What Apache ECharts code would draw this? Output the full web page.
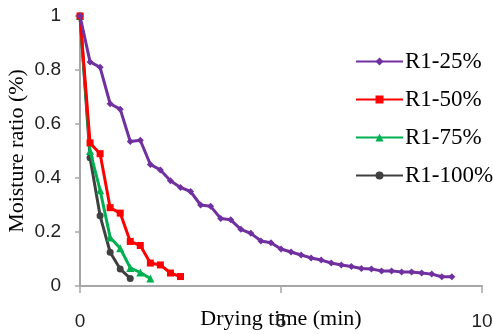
<!DOCTYPE html>
<html><head><meta charset="utf-8">
<script src="https://cdn.jsdelivr.net/npm/echarts@6/dist/echarts.min.js"></script>
<style>html,body{margin:0;padding:0;background:#fff}#c{width:493px;height:334px}</style>
</head><body><div id="c"></div>
<script>
var seriesNames = ['R1-25%', 'R1-50%', 'R1-75%', 'R1-100%'];
var time25 = [0,0.25,0.5,0.75,1,1.25,1.5,1.75,2,2.25,2.5,2.75,3,3.25,3.5,3.75,4,4.25,4.5,4.75,5,5.25,5.5,5.75,6,6.25,6.5,6.75,7,7.25,7.5,7.75,8,8.25,8.5,8.75,9,9.25];
var mr25 = [1,0.83,0.81,0.675,0.655,0.535,0.54,0.45,0.43,0.39,0.365,0.35,0.30,0.295,0.25,0.245,0.21,0.195,0.167,0.16,0.137,0.126,0.115,0.104,0.096,0.085,0.078,0.072,0.065,0.063,0.056,0.056,0.052,0.052,0.048,0.044,0.034,0.034];
var time50 = [0,0.25,0.5,0.75,1,1.25,1.5,1.75,2,2.25,2.5];
var mr50 = [1,0.53,0.49,0.29,0.27,0.165,0.15,0.085,0.078,0.048,0.035];
var time75 = [0,0.25,0.5,0.75,1,1.25,1.5,1.75];
var mr75 = [1,0.50,0.355,0.18,0.14,0.067,0.05,0.028];
var time100 = [0,0.25,0.5,0.75,1,1.25];
var mr100 = [1,0.475,0.26,0.125,0.063,0.028];
var xTicks = [0, 5, 10];
var yTicks = [0, 0.2, 0.4, 0.6, 0.8, 1];

function pairs(t, v){ return t.map(function(x,i){ return [x, v[i]]; }); }
var colors = ['#7030A0', '#FF0000', '#00B050', '#404040'];
var symbols = ['diamond', 'rect', 'triangle', 'circle'];
var sizes = [7, 7, 8, 7];
var datasets = [pairs(time25, mr25), pairs(time50, mr50), pairs(time75, mr75), pairs(time100, mr100)];
var serif = '"Liberation Serif", "Times New Roman", serif';
var sans = '"Liberation Sans", Arial, sans-serif';

var chart = echarts.init(document.getElementById('c'), null, {renderer: 'canvas'});
chart.setOption({
  animation: false,
  backgroundColor: '#fff',
  grid: {left: 80, right: 11, top: 16, bottom: 48, containLabel: false, outerBoundsMode: 'none'},
  legend: {
    orient: 'vertical', left: 355, top: 50, padding: 0,
    itemWidth: 47, itemHeight: 10, itemGap: 15,
    textStyle: {fontFamily: serif, fontSize: 23, color: '#000', padding: [0,0,0,-3]},
    data: seriesNames
  },
  xAxis: {
    type: 'value', min: 0, max: 10, interval: 5,
    name: 'Drying time (min)', nameLocation: 'middle', nameGap: 22, nameMoveOverlap: false,
    nameTextStyle: {fontFamily: serif, fontSize: 22, color: '#000'},
    axisLine: {lineStyle: {color: '#A6A6A6', width: 2}},
    axisTick: {show: true, length: 7, lineStyle: {color: '#A6A6A6', width: 1.5}},
    axisLabel: {fontFamily: sans, fontSize: 19, color: '#222', margin: 26},
    splitLine: {show: false}
  },
  yAxis: {
    type: 'value', min: 0, max: 1, interval: 0.2,
    name: 'Moisture ratio (%)', nameLocation: 'middle', nameGap: 52, nameMoveOverlap: false,
    nameTextStyle: {fontFamily: serif, fontSize: 22, color: '#000'},
    axisLine: {show: true, lineStyle: {color: '#A6A6A6', width: 2}},
    axisTick: {show: true, length: 5, lineStyle: {color: '#A6A6A6', width: 1.5}},
    axisLabel: {fontFamily: sans, fontSize: 19, color: '#222', margin: 19},
    splitLine: {show: false}
  },
  series: seriesNames.map(function(n, i){
    return {
      name: n, type: 'line', data: datasets[i],
      symbol: symbols[i], symbolSize: sizes[i], showSymbol: true,
      lineStyle: {color: colors[i], width: 3},
      itemStyle: {color: colors[i]},
      z: 10 - i
    };
  })
});
</script></body></html>
